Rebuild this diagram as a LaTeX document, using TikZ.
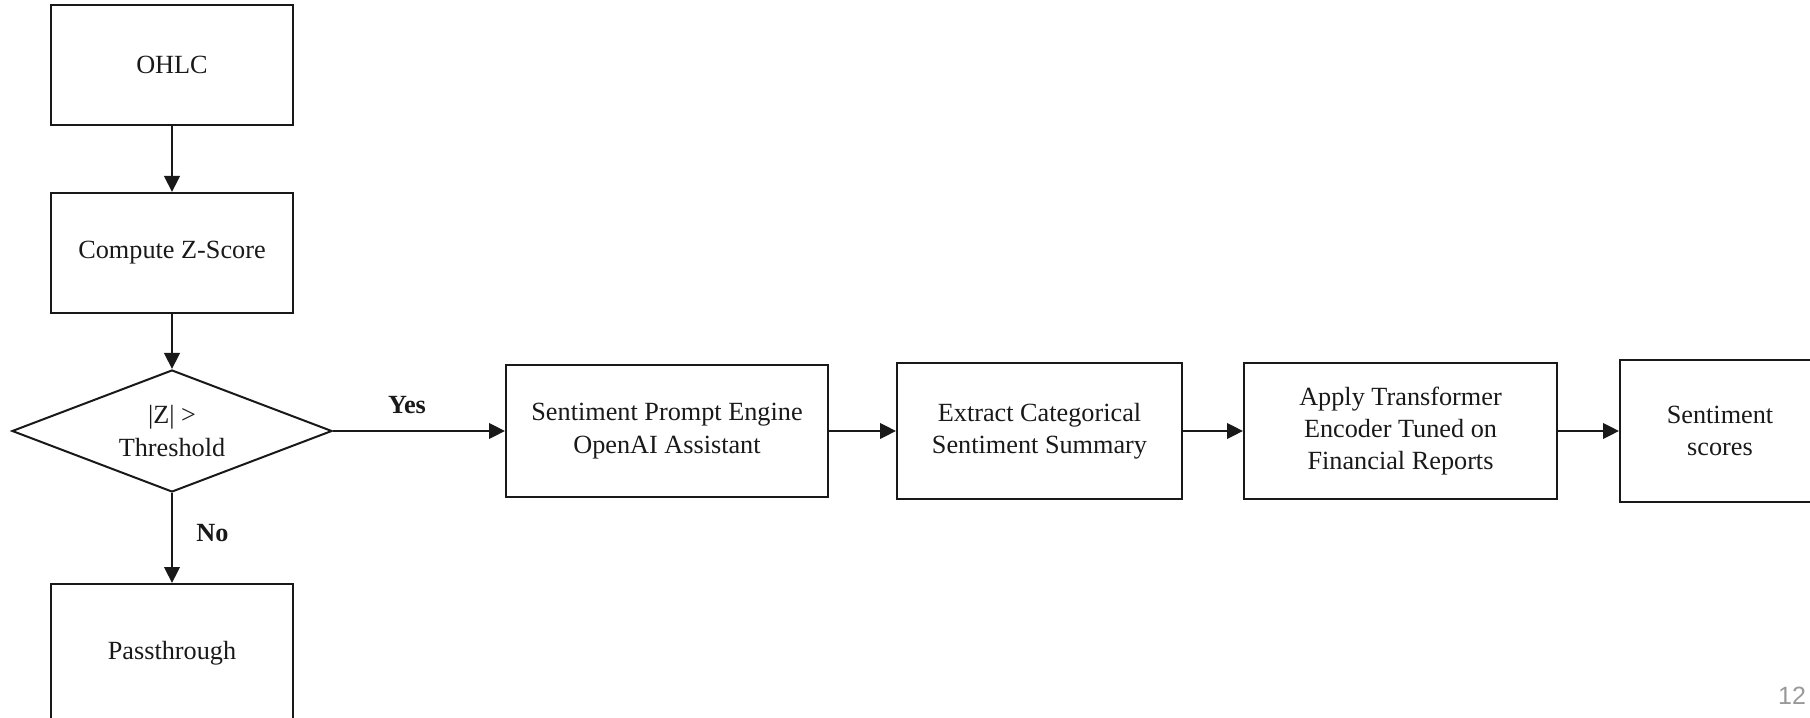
\documentclass[tikz,border=0pt]{standalone}
\usepackage{fontspec}
\setmainfont{Liberation Serif}
\newfontfamily\pagefont{Liberation Sans}
\usetikzlibrary{shapes.geometric,arrows.meta}
\begin{document}
\begin{tikzpicture}[x=0.4pt,y=-0.4pt,
  caja/.style={draw=black!90,line width=0.8pt,align=center,inner sep=2pt,
    font=\fontsize{10.5}{12.9}\selectfont,text=black!90},
  rombo/.style={caja,diamond,aspect=2.6,minimum width=128pt,minimum height=48.8pt},
  flecha/.style={draw=black!90,line width=0.9pt,-{Triangle[length=6.4pt,width=6.2pt]}},
  etiqueta/.style={font=\fontsize{10.5}{12.9}\selectfont\bfseries,text=black!90}]
% Marco
\useasboundingbox (0,0) rectangle (1810,718);
\clip (0,0) rectangle (1810,718);
% Columna izquierda
\node[caja,minimum width=96.8pt,minimum height=48pt] (OHLC) at (172,65) {OHLC};
\node[caja,minimum width=96.8pt,minimum height=48pt] (Zscore) at (172,253) {Compute Z-Score};
\node[rombo] (Decision) at (172,431) {|Z| >\\Threshold};
\node[caja,minimum width=96.8pt,minimum height=55.2pt] (Passthrough) at (172,653) {Passthrough};
% Fila de sentimiento
\node[caja,minimum width=128.8pt,minimum height=52.4pt] (Prompt) at (667,431) {Sentiment Prompt Engine\\OpenAI Assistant};
\node[caja,minimum width=114pt,minimum height=54pt] (Extract) at (1039.5,431) {Extract Categorical\\Sentiment Summary};
\node[caja,minimum width=125.2pt,minimum height=54pt] (Apply) at (1400.5,431) {Apply Transformer\\Encoder Tuned on\\Financial Reports};
\node[caja,minimum width=80pt,minimum height=56.4pt] (Scores) at (1720,431) {Sentiment\\scores};
% Flechas
\draw[flecha] (OHLC) -- (Zscore);
\draw[flecha] (Zscore) -- (Decision);
\draw[flecha] (Decision) -- node[etiqueta,above=3pt,pos=0.43] {Yes} (Prompt);
\draw[flecha] (Decision) -- node[etiqueta,right=6pt,pos=0.45] {No} (Passthrough);
\draw[flecha] (Prompt) -- (Extract);
\draw[flecha] (Extract) -- (Apply);
\draw[flecha] (Apply) -- (Scores);
% Pagina
\node[font=\pagefont\fontsize{10}{12}\selectfont,text=black!40] (Pagina) at (1792,696) {12};
\end{tikzpicture}
\end{document}
